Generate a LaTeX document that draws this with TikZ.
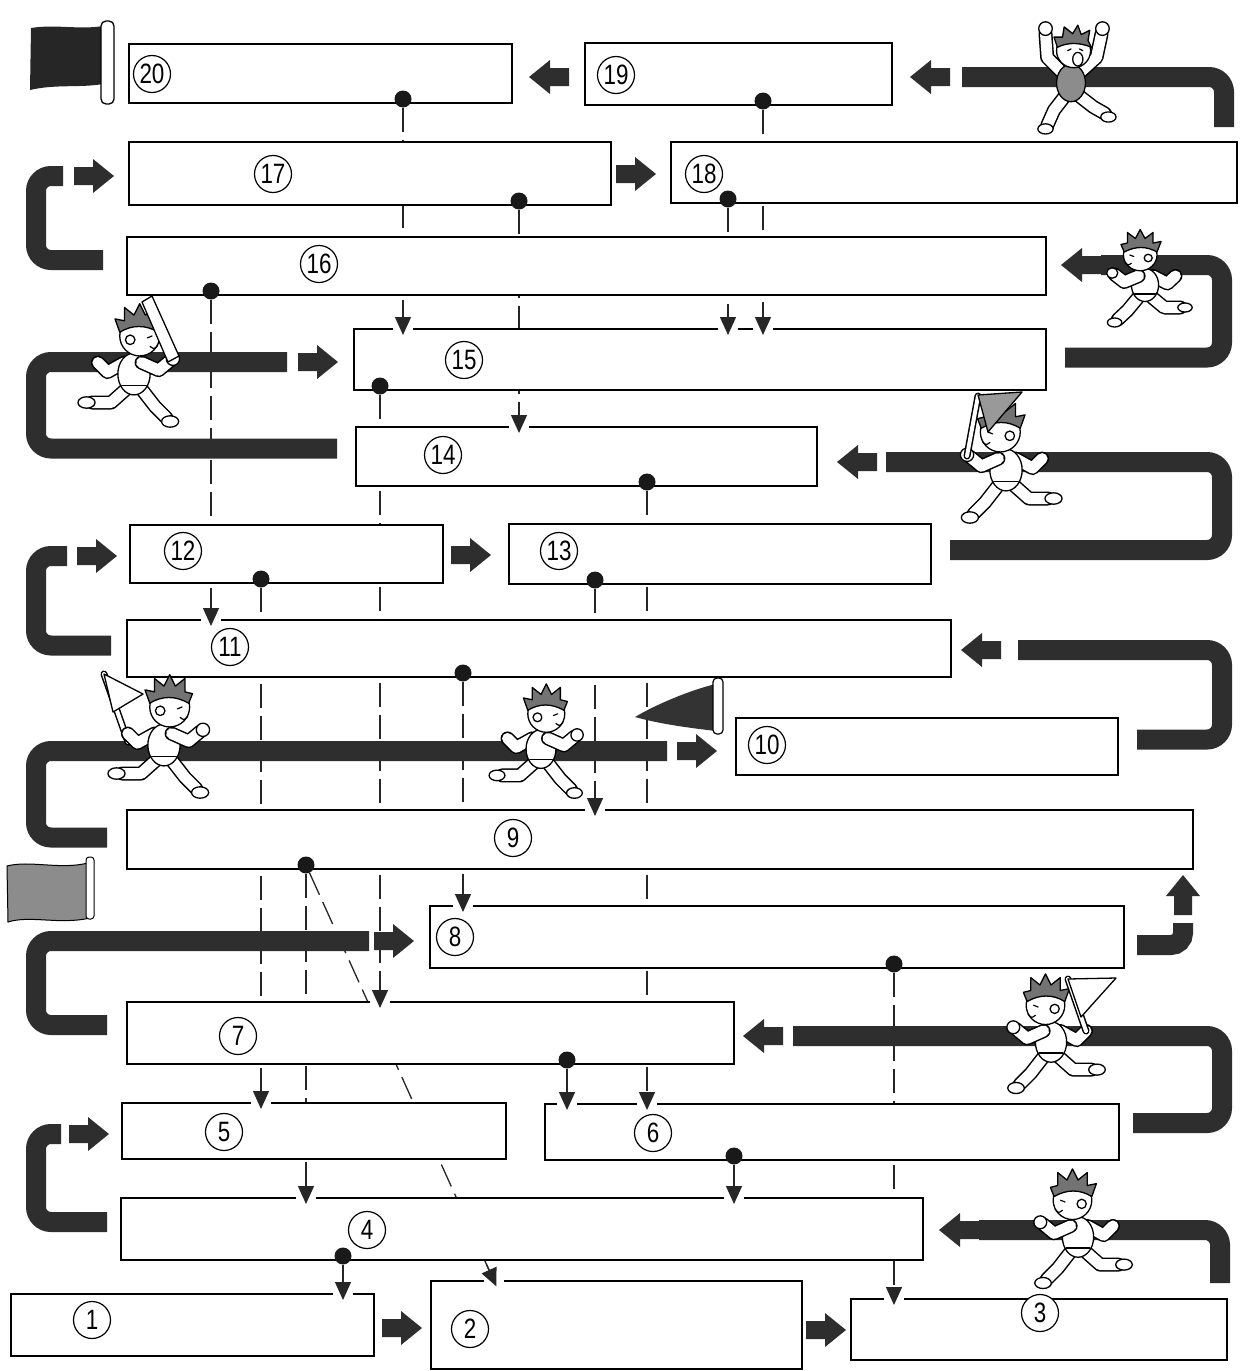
\documentclass[tikz,border=0pt]{standalone}
\usepackage{fontspec}
\newfontfamily\numfont{Liberation Sans}
\usetikzlibrary{arrows.meta,calc}
\pgfdeclarelayer{bg}
\pgfdeclarelayer{trk}
\pgfdeclarelayer{fg}
\pgfsetlayers{bg,trk,main,fg}

\newcommand\sq[1]{\scalebox{0.8}[1]{#1}}
\newcommand\outlimb[1]{\draw[limbout] #1; \draw[limbin] #1;}
% a stage box: name, x1, y1, x2, y2
\newcommand\stage[5]{\node[stagebox, minimum width={#4pt-#2pt}, minimum height={#5pt-#3pt}] (#1) at (#2,#3) {};}
% dashed drop line from a dot to the top edge of a box
\newcommand\dropline[3]{%
  \coordinate (#3) at (#1 |- #2.north);
  \begin{pgfonlayer}{bg}\draw[link] (#1) -- (#3);\end{pgfonlayer}
  \begin{pgfonlayer}{fg}
    \draw[gap] ([xshift=-10pt]#3) -- ([xshift=10pt]#3);
    \draw[tipline] ([yshift=12pt]#3) -- ([yshift=-6pt]#3);
  \end{pgfonlayer}}

\tikzset{
  stagebox/.style={rectangle, draw=black, line width=2.4pt, fill=white, inner sep=0pt, outer sep=0pt, anchor=north west},
  num/.style={circle, draw=black, line width=1.2pt, fill=white, minimum size=37pt, inner sep=0pt,
    font=\numfont\fontsize{28pt}{28pt}\selectfont},
  dot/.style={circle, fill=black!90, inner sep=0pt, minimum size=17pt},
  link/.style={draw=black!85, line width=1.3pt, dash pattern=on 24pt off 8pt},
  gap/.style={draw=white, line width=4pt},
  tipline/.style={draw=black!85, line width=1.3pt, -{Triangle[width=16pt,length=18pt]}},
  track/.style={draw=black!82, line width=20pt, rounded corners=15pt},
  trackfill/.style={fill=black!82},
  limbout/.style={draw=black, line width=14pt, line cap=round, line join=round},
  limbin/.style={draw=white, line width=11pt, line cap=round, line join=round},
  toon/.style={fill=white, draw=black, line width=1.3pt, line join=round},
  toonline/.style={draw=black, line width=1.2pt, line cap=round},
  blockarrow/.pic={
    \fill[trackfill] (-20,-9) -- (-1,-9) -- (-1,-17) -- (20,0) -- (-1,17) -- (-1,9) -- (-20,9) -- cycle;
    \coordinate (-tail) at (-20,0);
    \coordinate (-tip) at (20,0);
  },
  runner/.pic={
    \outlimb{(-6,14) -- (-24,30) -- (-44,30)}
    \filldraw[toon] (-50,30) ellipse (9 and 6);
    \outlimb{(-10,-12) -- (-28,-2) -- (-38,-12)}
    \outlimb{(8,16) -- (22,34) -- (34,46)}
    \filldraw[toon] (38,50) ellipse (9 and 6);
    \filldraw[toon] (0,0) ellipse (17 and 22);
    \draw[toonline] (-13,12) -- (13,12);
    \outlimb{(8,-12) -- (26,-4) -- (38,-14)}
    \filldraw[toon] (41,-16) circle (7);
    \filldraw[toon] (6,-40) circle (21);
    \filldraw[toon, fill=black!55] (-15,-44) -- (-20,-58) -- (-10,-56) -- (-10,-70) -- (0,-62) -- (6,-74)
      -- (12,-62) -- (22,-70) -- (22,-56) -- (30,-54) -- (26,-44) .. controls (12,-52) and (-2,-52) .. cycle;
    \filldraw[toon] (-4,-36) circle (5);
    \draw[toonline] (14,-38) -- (19,-40);
    \draw[toonline] (17,-29) .. controls (21,-26) .. (25,-30);
  },
  cheer/.pic={
    \outlimb{(-6,14) -- (-20,32) -- (-28,50)}
    \outlimb{(8,14) -- (26,28) -- (40,36)}
    \filldraw[toon] (-30,54) ellipse (9 and 6);
    \filldraw[toon] (44,40) ellipse (9 and 6);
    \outlimb{(-10,-12) -- (-28,-30) -- (-30,-58)}
    \outlimb{(10,-12) -- (30,-30) -- (36,-58)}
    \filldraw[toon] (-30,-64) circle (8);
    \filldraw[toon] (37,-64) circle (8);
    \filldraw[toon, fill=black!45] (0,0) ellipse (17 and 22);
    \filldraw[toon] (3,-38) circle (20);
    \filldraw[toon, fill=black!55] (-16,-42) -- (-20,-54) -- (-10,-54) -- (-8,-66) -- (2,-58) -- (8,-68)
      -- (12,-57) -- (22,-62) -- (20,-50) -- (24,-42) .. controls (10,-48) and (-4,-48) .. cycle;
    \filldraw[toon] (8,-28) ellipse (6 and 8);
    \draw[toonline] (-4,-38) -- (0,-40);
    \draw[toonline] (10,-40) -- (14,-38);
  }
}

\begin{document}
\begin{tikzpicture}[x=1pt, y=-1pt]
\useasboundingbox (0,0) rectangle (1245,1371);
\begin{pgfonlayer}{bg}
  \fill[white] (0,0) rectangle (1245,1371);
\end{pgfonlayer}

% stage boxes
\stage{b20}{129}{44}{512}{103}
\stage{b19}{585}{43}{892}{105}
\stage{b17}{129}{142}{611}{205}
\stage{b18}{671}{142}{1237}{203}
\stage{b16}{127}{237}{1046}{295}
\stage{b15}{354}{329}{1046}{390}
\stage{b14}{356}{427}{817}{486}
\stage{b12}{130}{525}{443}{583}
\stage{b13}{509}{524}{931}{584}
\stage{b11}{127}{620}{951}{677}
\stage{b10}{736}{718}{1118}{775}
\stage{b9}{127}{810}{1193}{869}
\stage{b8}{430}{906}{1124}{968}
\stage{b7}{127}{1002}{734}{1064}
\stage{b5}{122}{1103}{506}{1159}
\stage{b6}{545}{1104}{1119}{1160}
\stage{b4}{121}{1198}{923}{1260}
\stage{b1}{11}{1294}{374}{1356}
\stage{b2}{431}{1281}{802}{1369}
\stage{b3}{851}{1299}{1227}{1360}

% stage numbers
\node[num] (n20) at (152,74) {\sq{20}};
\node[num] (n19) at (616,75) {\sq{19}};
\node[num] (n17) at (273,174) {\sq{17}};
\node[num] (n18) at (704,174) {\sq{18}};
\node[num] (n16) at (319,264) {\sq{16}};
\node[num] (n15) at (464,360) {\sq{15}};
\node[num] (n14) at (443,455) {\sq{14}};
\node[num] (n12) at (183,551) {\sq{12}};
\node[num] (n13) at (559,551) {\sq{13}};
\node[num] (n11) at (230,647) {\sq{11}};
\node[num] (n10) at (767,745) {\sq{10}};
\node[num] (n9) at (513,838) {\sq{9}};
\node[num] (n8) at (455,937) {\sq{8}};
\node[num] (n7) at (238,1036) {\sq{7}};
\node[num] (n5) at (224,1132) {\sq{5}};
\node[num] (n6) at (653,1133) {\sq{6}};
\node[num] (n4) at (367,1230) {\sq{4}};
\node[num] (n1) at (92,1320) {\sq{1}};
\node[num] (n2) at (470,1329) {\sq{2}};
\node[num] (n3) at (1040,1313) {\sq{3}};

% output dots
\begin{pgfonlayer}{fg}
\node[dot, yshift=4pt] (d20) at (403,0 |- b20.south) {};
\node[dot, yshift=4pt] (d19) at (763,0 |- b19.south) {};
\node[dot, yshift=4pt] (d17) at (519,0 |- b17.south) {};
\node[dot, yshift=4pt] (d18) at (728,0 |- b18.south) {};
\node[dot, yshift=4pt] (d16) at (211,0 |- b16.south) {};
\node[dot, yshift=4pt] (d15) at (380,0 |- b15.south) {};
\node[dot, yshift=4pt] (d14) at (647,0 |- b14.south) {};
\node[dot, yshift=4pt] (d12) at (261,0 |- b12.south) {};
\node[dot, yshift=4pt] (d13) at (595,0 |- b13.south) {};
\node[dot, yshift=4pt] (d11) at (463,0 |- b11.south) {};
\node[dot, yshift=4pt] (d9) at (306,0 |- b9.south) {};
\node[dot, yshift=4pt] (d8) at (894,0 |- b8.south) {};
\node[dot, yshift=4pt] (d7) at (567,0 |- b7.south) {};
\node[dot, yshift=4pt] (d6) at (734,0 |- b6.south) {};
\node[dot, yshift=4pt] (d4) at (343,0 |- b4.south) {};
\end{pgfonlayer}

% dependency lines
\dropline{d20}{b15}{t1}
\dropline{d19}{b15}{t2}
\dropline{d17}{b14}{t3}
\dropline{d18}{b15}{t4}
\dropline{d16}{b11}{t5}
\dropline{d15}{b7}{t6}
\dropline{d14}{b6}{t7}
\dropline{d12}{b5}{t8}
\dropline{d13}{b9}{t9}
\dropline{d11}{b8}{t10}
\dropline{d9}{b4}{t11}
\dropline{d8}{b3}{t13}
\dropline{d7}{b6}{t14}
\dropline{d6}{b4}{t15}
\dropline{d4}{b1}{t16}
% the slanted line from 9 down to 2
\coordinate (t12) at (494,0 |- b2.north);
\begin{pgfonlayer}{bg}\draw[link] (d9) -- (t12);\end{pgfonlayer}
\begin{pgfonlayer}{fg}
  \draw[gap] ([xshift=-10pt]t12) -- ([xshift=10pt]t12);
  \draw[tipline] ($(t12)!18pt!(d9)$) -- ($(t12)!-6pt!(d9)$);
\end{pgfonlayer}

% block arrows and the running track
\begin{pgfonlayer}{trk}
\pic[rotate=180] (a20) at (549,77) {blockarrow};
\pic[rotate=180] (a19) at (930,77) {blockarrow};
\pic (a17) at (94,176) {blockarrow};
\pic (a18) at (636,174) {blockarrow};
\pic[rotate=180] (a16) at (1081,265) {blockarrow};
\pic (a15) at (318,362) {blockarrow};
\pic[rotate=180] (a14) at (857,462) {blockarrow};
\pic (a12) at (97,556) {blockarrow};
\pic (a13) at (471,555) {blockarrow};
\pic[rotate=180] (a11) at (981,650) {blockarrow};
\pic (a10) at (697,751) {blockarrow};
\pic[rotate=90] (a9) at (1183,895) {blockarrow};
\pic (a8) at (394,941) {blockarrow};
\pic[rotate=180] (a7) at (763,1036) {blockarrow};
\pic (a5) at (89,1134) {blockarrow};
\pic[rotate=180] (a4) at (959,1230) {blockarrow};
\pic (a2) at (402,1328) {blockarrow};
\pic (a3) at (826,1330) {blockarrow};

\draw[track] ([shift={(-13pt,15pt)}]b18.north east) |- ([xshift=12pt]a19-tail);
\draw[track] ([shift={(-24pt,6pt)}]b16.west) -| (36,0 |- a17-tail) -- ([xshift=-11pt]a17-tail);
\draw[track] ([shift={(19pt,2pt)}]b15.east) -| (1222,0 |- a16-tail) -- (a16-tail);
\draw[track] ([shift={(-19pt,8pt)}]b14.west) -| (36,0 |- a15-tail) -- ([xshift=-11pt]a15-tail);
\draw[track] ([shift={(19pt,4pt)}]b13.east) -| (1222,0 |- a14-tail) -- ([xshift=9pt]a14-tail);
\draw[track] ([shift={(-16pt,3pt)}]b11.west) -| (36,0 |- a12-tail) -- ([xshift=-10pt]a12-tail);
\draw[track] ([shift={(19pt,7pt)}]b10.east) -| (1222,0 |- a11-tail) -- ([xshift=17pt]a11-tail);
\draw[track] ([shift={(-20pt,2pt)}]b9.west) -| (36,0 |- a10-tail) -- ([xshift=-10pt]a10-tail);
\draw[track, rounded corners=12pt] ([shift={(13pt,-8pt)}]b8.east) -| ([yshift=-8pt]a9-tail);
\draw[track] ([shift={(-20pt,8pt)}]b7.west) -| (36,0 |- a8-tail) -- ([xshift=-5pt]a8-tail);
\draw[track] ([shift={(14pt,9pt)}]b6.east) -| (1222,0 |- a7-tail) -- ([xshift=10pt]a7-tail);
\draw[track] ([shift={(-14pt,7pt)}]b4.west) -| (36,0 |- a5-tail) -- ([xshift=-8pt]a5-tail);
\draw[track] ([shift={(-7pt,16pt)}]b3.north east) |- (a4-tail);
\end{pgfonlayer}

\begin{pgfonlayer}{fg}
% finish flag
\fill[black!85] (31,28) .. controls (55,24) and (80,30) .. (103,26) -- (103,84) .. controls (80,88) and (55,84) .. (30,90) -- cycle;
\filldraw[fill=white, draw=black, line width=1.3pt, rounded corners=5pt] (101,21) rectangle (114,104);
% pennant by stage 10
\fill[black!80] (716,684) .. controls (690,690) and (655,705) .. (635,717) .. controls (660,724) and (690,728) .. (716,731) -- cycle;
\filldraw[fill=white, draw=black, line width=1.2pt, rounded corners=4pt] (713,678) rectangle (723,734);
% banner by stage 9
\filldraw[fill=black!45, draw=black, line width=1pt] (7,866) .. controls (30,860) and (60,870) .. (88,863) -- (90,918) .. controls (60,925) and (30,915) .. (8,922) -- cycle;
\filldraw[fill=white, draw=black, line width=1pt, rounded corners=3pt] (86,857) rectangle (94,919);

% runners along the track
\pic[scale=0.85] (kid1) at (1071,83) {cheer};
\pic[xscale=-0.8, yscale=0.75] (kid2) at (1145,285) {runner};
\pic[scale=0.95] (kid3) at (134,374) {runner};
\filldraw[toon] (168,362) -- (142,302) -- (152,296) -- (179,356) -- cycle;
\pic[xscale=-0.95, yscale=0.95] (kid4) at (1006,470) {runner};
\draw[limbout, line width=7pt] (967,456) -- (978,396);
\draw[limbin, line width=4pt] (967,456) -- (978,396);
\filldraw[toon, fill=black!40] (978,395) -- (1022,392) -- (988,432) -- cycle;
\draw[limbout, line width=7pt] (128,742) -- (104,674);
\draw[limbin, line width=4pt] (128,742) -- (104,674);
\filldraw[toon] (104,674) -- (143,694) -- (113,712) -- cycle;
\pic[scale=0.95] (kid5) at (164,745) {runner};
\pic[scale=0.88] (kid6) at (541,749) {runner};
\pic[xscale=-0.92, yscale=0.92] (kid7) at (1051,1042) {runner};
\draw[limbout, line width=7pt] (1086,1031) -- (1068,979);
\draw[limbin, line width=4pt] (1086,1031) -- (1068,979);
\filldraw[toon] (1068,979) -- (1116,978) -- (1081,1017) -- cycle;
\pic[xscale=-0.92, yscale=0.92] (kid8) at (1078,1237) {runner};
\end{pgfonlayer}
\end{tikzpicture}
\end{document}
